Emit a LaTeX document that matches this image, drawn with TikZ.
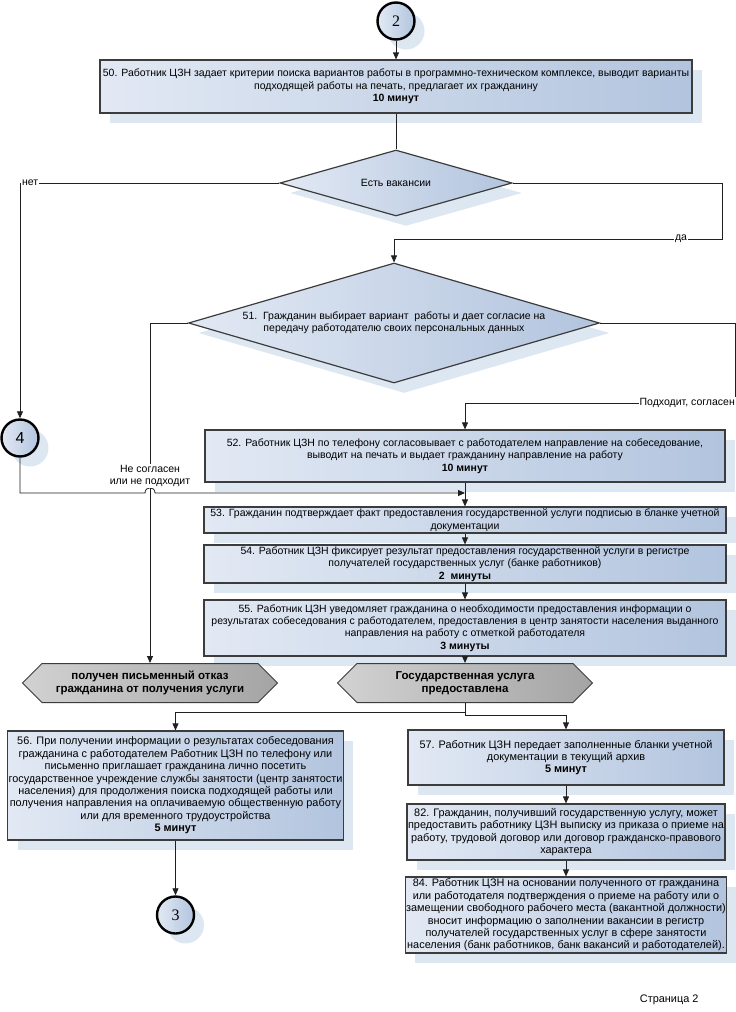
\documentclass[tikz,border=0pt]{standalone}
\usepackage{fontspec}
\setmainfont{Liberation Sans}
\newfontfamily\serifnum{Liberation Serif}
\usetikzlibrary{arrows.meta,shapes.geometric,shapes.symbols,shadows}
\definecolor{bla}{HTML}{E2E9F4}
\definecolor{blb}{HTML}{B2C4DE}
\definecolor{shc}{HTML}{DDE7F2}
\definecolor{brd}{HTML}{3C3C3C}
\definecolor{gra}{HTML}{D2D2D2}
\definecolor{grb}{HTML}{A4A4A4}
\definecolor{lnc}{HTML}{202020}
\begin{document}
\begin{tikzpicture}[x=1pt,y=-1pt,
  shad/.style={general shadow={fill=shc, shadow xshift=10pt, shadow yshift=-10pt}},
  txt/.style={font=\fontsize{10.5}{12.4}\selectfont},
  ltxt/.style={font=\fontsize{10.9}{12.4}\selectfont},
  proc/.style={rectangle, draw=brd, line width=1.2pt, left color=bla, right color=blb, shad, align=center, inner sep=1pt, txt},
  dec/.style={diamond, draw=brd, line width=1.2pt, left color=bla, right color=blb, shad, align=center, inner sep=0pt, txt},
  hexa/.style={signal, signal to=west and east, signal pointer angle=90, draw=brd, line width=1pt, left color=gra, right color=grb, align=center, inner sep=0pt, minimum width=255pt, minimum height=39pt, font=\fontsize{11.5}{13}\selectfont\bfseries},
  conn/.style={draw=lnc, line width=0.8pt, -{Triangle[length=7pt,width=6pt]}},
  plain/.style={draw=lnc, line width=0.8pt},
  circ/.style={circle, draw=black, line width=2.4pt, left color=bla, right color=blb, shad, minimum size=37pt, inner sep=0pt},
  lbl/.style={fill=white, inner sep=1pt, txt}
]
\useasboundingbox[fill=white] (0,0) rectangle (736,1012);

% nodes
\node[circ, font=\serifnum\fontsize{16}{16}\selectfont] (c2) at (396,21) {2};
\node[proc, minimum width=592pt, minimum height=53pt] (b50) at (396,86.5)
  {50. Работник ЦЗН задает критерии поиска вариантов работы в программно-техническом комплексе, выводит варианты\\
   подходящей работы на печать, предлагает их гражданину\\ \textbf{10 минут}};
\node[dec, minimum width=232pt, minimum height=66pt, shape aspect=3.5] (d1) at (396,183) {Есть вакансии};
\node[dec, minimum width=411pt, minimum height=120pt, shape aspect=3.4] (d51) at (394,323)
  {51.\ \ Гражданин выбирает вариант\ \ работы и дает согласие на\\ передачу работодателю своих персональных данных};
\node[circ, font=\fontsize{16}{16}\selectfont] (c4) at (20,438) {4};
\node[proc, minimum width=520pt, minimum height=52pt] (b52) at (465,456)
  {52. Работник ЦЗН по телефону согласовывает с работодателем направление на собеседование,\\
   выводит на печать и выдает гражданину направление на работу\\ \textbf{10 минут}};
\node[proc, minimum width=522pt, minimum height=26pt] (b53) at (465,520)
  {53. Гражданин подтверждает факт предоставления государственной услуги подписью в бланке учетной\\ документации};
\node[proc, minimum width=522pt, minimum height=38pt] (b54) at (465,564)
  {54. Работник ЦЗН фиксирует результат предоставления государственной услуги в регистре\\
   получателей государственных услуг (банке работников)\\ \textbf{2\ \ минуты}};
\node[proc, minimum width=522pt, minimum height=56pt] (b55) at (465,628)
  {55. Работник ЦЗН уведомляет гражданина о необходимости предоставления информации о\\
   результатах собеседования с работодателем, предоставления в центр занятости населения выданного\\
   направления на работу с отметкой работодателя\\ \textbf{3 минуты}};
\node[hexa] (h1) at (150,683) {получен письменный отказ\\ гражданина от получения услуги};
\node[hexa] (h2) at (465,683) {Государственная услуга\\ предоставлена};
\node[proc, minimum width=335pt, minimum height=109pt, ltxt] (b56) at (175.5,785.5)
  {56. При получении информации о результатах собеседования\\
   гражданина с работодателем Работник ЦЗН по телефону или\\
   письменно приглашает гражданина лично посетить\\
   государственное учреждение службы занятости (центр занятости\\
   населения) для продолжения поиска подходящей работы или\\
   получения направления на оплачиваемую общественную работу\\
   или для временного трудоустройства\\ \textbf{5 минут}};
\node[circ, font=\serifnum\fontsize{16}{16}\selectfont] (c3) at (175.5,915) {3};
\node[proc, minimum width=316pt, minimum height=55pt, ltxt] (b57) at (566,757.5)
  {57. Работник ЦЗН передает заполненные бланки учетной\\ документации в текущий архив\\ \textbf{5 минут}};
\node[proc, minimum width=316pt, minimum height=56pt, ltxt] (b82) at (566,832)
  {82. Гражданин, получивший государственную услугу, может\\
   предоставить работнику ЦЗН выписку из приказа о приеме на\\
   работу, трудовой договор или договор гражданско-правового\\ характера};
\node[proc, minimum width=316pt, minimum height=76pt, ltxt] (b84) at (566,915)
  {84. Работник ЦЗН на основании полученного от гражданина\\
   или работодателя подтверждения о приеме на работу или о\\
   замещении свободного рабочего места (вакантной должности)\\
   вносит информацию о заполнении вакансии в регистр\\
   получателей государственных услуг в сфере занятости\\
   населения (банк работников, банк вакансий и работодателей).};

% coordinates for bends
\coordinate (r0) at (722,239);
\coordinate (r1) at (735,403);
\coordinate (j) at (465,493);
\coordinate (sp1) at (465,712);
\coordinate (sp2) at (465,715);

% connectors
\draw[conn] (c2) -- (b50);
\draw[plain] (b50) -- (d1);
\draw[conn] (d1.west) -| (c4.north);
\draw[conn] (d1.east) -| (r0) -| (d51.north);
\draw[conn] (d51.west) -| (h1.north);
\draw[conn] (d51.east) -| (r1) -| (b52.north);
\draw[conn] (c4.south) |- (145,493) .. controls (145,486) and (155,486) .. (155,493) -- (j);
\draw[conn] (b52) -- (b53);
\draw[conn] (b53) -- (b54);
\draw[conn] (b54) -- (b55);
\draw[conn] (b55) -- (h2);
\draw[plain] (h2.south) -- (sp2);
\draw[conn] (sp1) -| (b56.north);
\draw[conn] (sp2) -| (b57.north);
\draw[conn] (b56) -- (c3);
\draw[conn] (b57) -- (b82);
\draw[conn] (b82) -- (b84);

% labels
\node[lbl, anchor=west] (lno) at (21,183) {нет};
\node[lbl] (lda) at (681,239) {да};
\node[lbl, anchor=east] (lpod) at (736,403) {Подходит, согласен};
\node[lbl, align=center] (lne) at (150,476) {Не согласен\\ или не подходит};
\node[ltxt, anchor=east] (pg) at (702,1000) {Страница 2};
\end{tikzpicture}
\end{document}
